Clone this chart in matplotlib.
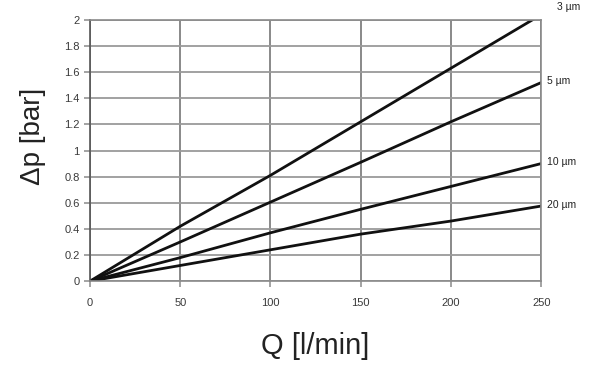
import matplotlib
matplotlib.use("Agg")
import matplotlib.pyplot as plt

# Q [l/min] and pressure drop [bar]
q = [0, 50, 100, 150, 200, 250]
dp_3um = [0, 0.42, 0.81, 1.22, 1.63, 2.04]
dp_5um = [0, 0.30, 0.605, 0.91, 1.22, 1.52]
dp_10um = [0, 0.18, 0.37, 0.55, 0.725, 0.90]
dp_20um = [0, 0.12, 0.24, 0.36, 0.46, 0.575]
series = [("3 µm", dp_3um), ("5 µm", dp_5um), ("10 µm", dp_10um), ("20 µm", dp_20um)]

x_ticks = [0, 50, 100, 150, 200, 250]
y_ticks = [0, 0.2, 0.4, 0.6, 0.8, 1, 1.2, 1.4, 1.6, 1.8, 2]
y_ticklabels = ["0", "0.2", "0.4", "0.6", "0.8", "1", "1.2", "1.4", "1.6", "1.8", "2"]

plt.rcParams['font.family'] = ['Liberation Sans', 'DejaVu Sans']

fig = plt.figure(figsize=(6, 3.68), dpi=100)
ax = fig.add_axes([0.15, 0.236, 0.752, 0.71])

ax.set_xlim(0, 250)
ax.set_ylim(0, 2)
ax.set_xticks(x_ticks)
ax.set_yticks(y_ticks)
ax.set_yticklabels(y_ticklabels)
ax.grid(True, axis='y', color='#9a9a9a', linewidth=1.3)
ax.grid(True, axis='x', color='#6a6a6a', linewidth=1.1)
ax.set_axisbelow(True)
for s in ax.spines.values():
    s.set_color('#8a8a8a')
    s.set_linewidth(1.2)
ax.spines['left'].set_color('#555555')
ax.tick_params(axis='both', colors='#8a8a8a', length=4, width=1.1,
               labelsize=8, labelcolor='#3a3a3a')
ax.tick_params(axis='x', pad=8)

for name, vals in series:
    ax.plot(q, vals, color='#111111', linewidth=2)

# curve labels near the line ends
ax.annotate("3 µm", (250, 2.0), xytext=(20, 9), textcoords='offset points',
            ha='center', va='center', fontsize=7.5, color='#222222', annotation_clip=False)
for name, vals in series[1:]:
    ax.annotate(name, (250, vals[-1]), xytext=(4, 1), textcoords='offset points',
                ha='left', va='center', fontsize=7.5, color='#222222', annotation_clip=False)

ax.set_xlabel("Q [l/min]", fontsize=21, color='#222222', va='center')
ax.xaxis.set_label_coords(0.499, -0.25)
ax.set_ylabel("Δp [bar]", fontsize=20, color='#222222', va='center')
ax.yaxis.set_label_coords(-0.126, 0.553)

fig.savefig("out.png", dpi=100)
